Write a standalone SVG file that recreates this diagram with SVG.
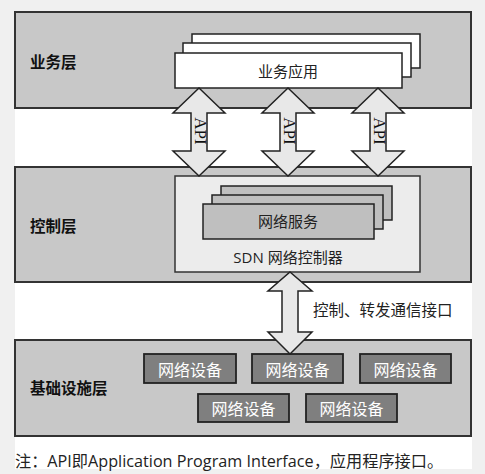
<svg xmlns="http://www.w3.org/2000/svg" width="485" height="474" viewBox="0 0 485 474">
<style>
.layer{fill:#c8c8c8;stroke:#333;stroke-width:2}
.app{fill:#fff;stroke:#222;stroke-width:1.5}
.svc{fill:#bfbfbf;stroke:#222;stroke-width:1.5}
.ctl{fill:#ececec;stroke:#333;stroke-width:1.5}
.dev{fill:#7f7f7f;stroke:#222;stroke-width:1.8}
.arrow{fill:#e8e8e8;stroke:#222;stroke-width:1.5;stroke-linejoin:miter}
.lbl{font-family:"Noto Sans CJK SC",sans-serif;font-weight:bold;font-size:15.5px;fill:#111;dominant-baseline:central}
.t{font-family:"Open Sans","Noto Sans CJK SC",sans-serif;font-size:15px;fill:#222;dominant-baseline:central}
.dt{font-family:"Noto Sans CJK SC",sans-serif;font-size:16px;fill:#fff;dominant-baseline:central;text-anchor:middle}
.api{font-family:"Liberation Serif",serif;font-size:17px;fill:#111;dominant-baseline:central;text-anchor:middle}
</style>
<rect x="0" y="0" width="485" height="474" fill="#f0f0f0"/>
<rect x="15" y="12" width="457" height="457" fill="#fff"/>

<g id="business-layer">
<rect class="layer" x="15" y="12" width="456" height="96"/>
<text class="lbl" x="30" y="61">业务层</text>
</g>
<g id="business-apps">
<rect class="app" x="192" y="34" width="228" height="34"/>
<rect class="app" x="183" y="43" width="228" height="34"/>
<rect class="app" x="175" y="53" width="227" height="35"/>
<text class="t" x="288" y="71" text-anchor="middle">业务应用</text>
</g>

<g id="control-layer">
<rect class="layer" x="15" y="167" width="456" height="115"/>
<text class="lbl" x="30" y="225">控制层</text>
</g>
<g id="sdn-controller">
<rect class="ctl" x="175" y="176" width="245" height="96"/>
<text class="t" x="288" y="257" text-anchor="middle">SDN 网络控制器</text>
</g>
<g id="network-services">
<rect class="svc" x="221" y="186" width="171" height="34"/>
<rect class="svc" x="212" y="195" width="171" height="34"/>
<rect class="svc" x="203" y="204" width="171" height="35"/>
<text class="t" x="288" y="221" text-anchor="middle">网络服务</text>
</g>

<g id="infrastructure-layer">
<rect class="layer" x="15" y="340" width="456" height="96"/>
<text class="lbl" x="30" y="387">基础设施层</text>
</g>
<g id="device-1"><rect class="dev" x="144" y="354" width="92" height="29"/><text class="dt" x="190" y="368.5">网络设备</text></g>
<g id="device-2"><rect class="dev" x="252" y="354" width="91" height="29"/><text class="dt" x="297.5" y="368.5">网络设备</text></g>
<g id="device-3"><rect class="dev" x="360" y="354" width="91" height="29"/><text class="dt" x="405.5" y="368.5">网络设备</text></g>
<g id="device-4"><rect class="dev" x="198" y="394" width="91" height="28"/><text class="dt" x="243.5" y="408">网络设备</text></g>
<g id="device-5"><rect class="dev" x="306" y="394" width="91" height="28"/><text class="dt" x="351.5" y="408">网络设备</text></g>

<g id="connectors">
<polygon class="arrow" points="199,88 225,113 207,113 207,151 225,151 199,176 173,151 191,151 191,113 173,113"/>
<polygon class="arrow" points="288,88 314,113 296,113 296,151 314,151 288,176 262,151 280,151 280,113 262,113"/>
<polygon class="arrow" points="378,88 404,113 386,113 386,151 404,151 378,176 352,151 370,151 370,113 352,113"/>
<text class="api" transform="translate(200,131) rotate(90)">API</text>
<text class="api" transform="translate(289,131) rotate(90)">API</text>
<text class="api" transform="translate(379,131) rotate(90)">API</text>
<polygon class="arrow" points="290,272 312,291 298,291 298,332 312,332 290,354 268,332 282,332 282,291 268,291"/>
<text class="t" x="313" y="310" style="font-size:15.5px">控制、转发通信接口</text>
</g>

<g id="note">
<text class="t" x="15" y="461" style="font-size:16.2px">注：API即Application Program Interface，应用程序接口。</text>
</g>
</svg>
